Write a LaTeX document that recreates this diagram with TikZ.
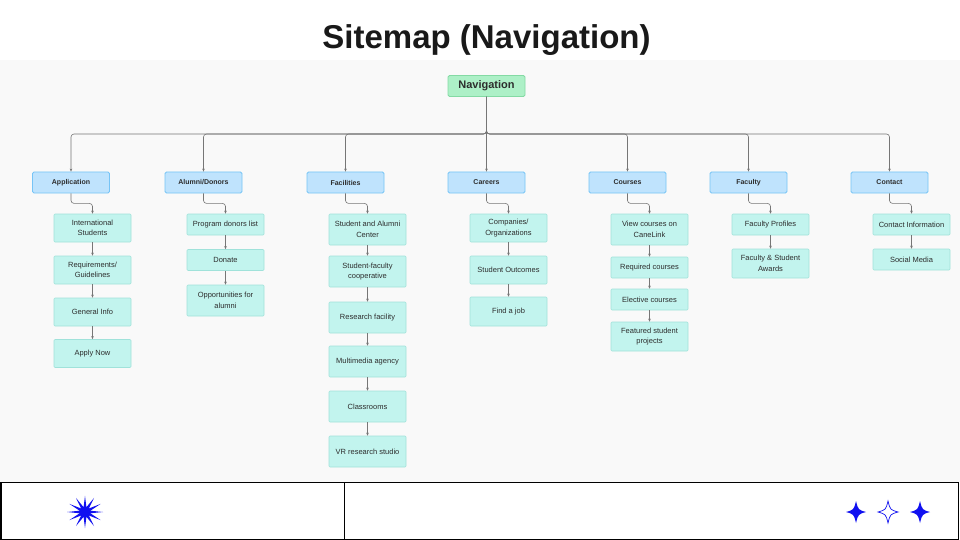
\documentclass[tikz,border=0pt]{standalone}
\usepackage{fontspec}
\setmainfont{Liberation Sans}
\usetikzlibrary{arrows.meta}

\definecolor{fonbg}{RGB}{249,249,249}
\definecolor{txt}{RGB}{45,45,45}
\definecolor{navfill}{RGB}{173,240,199}
\definecolor{navline}{RGB}{132,218,164}
\definecolor{topfill}{RGB}{191,227,253}
\definecolor{topline}{RGB}{118,196,246}
\definecolor{itemfill}{RGB}{194,244,238}
\definecolor{itemline}{RGB}{160,226,218}
\definecolor{linkgray}{RGB}{118,118,118}
\definecolor{starblue}{RGB}{16,16,240}

\tikzset{
  navbox/.style={draw=navline, fill=navfill, rounded corners=1.5pt, line width=0.8pt,
    minimum width=77, minimum height=21, inner sep=1pt, text=txt,
    font=\bfseries\fontsize{11}{13}\selectfont},
  topbox/.style={draw=topline, fill=topfill, rounded corners=1.5pt, line width=0.8pt,
    minimum width=77, minimum height=21, inner sep=1pt, text=txt,
    font=\bfseries\fontsize{7}{9}\selectfont},
  itembox/.style={draw=itemline, fill=itemfill, rounded corners=1pt, line width=0.6pt,
    minimum width=77, inner sep=1pt, align=center, text=txt,
    font=\fontsize{7.5}{10.5}\selectfont},
  link/.style={draw=linkgray, line width=0.6pt, rounded corners=3pt,
    -{Stealth[length=3pt,width=2.6pt]}},
  sparkle/.pic={
    \path[pic actions] (10,0) .. controls (2.2,2.2) .. (0,11)
      .. controls (-2.2,2.2) .. (-10,0) .. controls (-2.2,-2.2) .. (0,-11)
      .. controls (2.2,-2.2) .. cycle;
  }
}

\begin{document}
\begin{tikzpicture}[x=1pt,y=-1pt]
  \useasboundingbox (0,0) rectangle (960,540);
  \fill[white] (0,0) rectangle (960,540);
  \fill[fonbg] (0,60) rectangle (960,482);

  % Заголовок
  \node[anchor=base, font=\bfseries\fontsize{33}{36}\selectfont, text=black!90] (title) at (486.5,49) {Sitemap (Navigation)};

  % Корень
  \node[navbox] (nav) at (486.5,86) {Navigation};
  \coordinate (bus) at (486.5,134);

  % Разделы
  \node[topbox] (app) at (71,182.5) {Application};
  \node[topbox] (alum) at (203.5,182.5) {Alumni/Donors};
  \node[topbox] (fac) at (345.5,182.5) {Facilities};
  \node[topbox] (car) at (486.5,182.5) {Careers};
  \node[topbox] (crs) at (627.5,182.5) {Courses};
  \node[topbox] (facu) at (748.5,182.5) {Faculty};
  \node[topbox] (cont) at (889.5,182.5) {Contact};

  % Application
  \node[itembox, minimum height=28] (app1) at (92.5,228) {International\\Students};
  \node[itembox, minimum height=28] (app2) at (92.5,270) {Requirements/\\Guidelines};
  \node[itembox, minimum height=28] (app3) at (92.5,312) {General Info};
  \node[itembox, minimum height=28] (app4) at (92.5,353.5) {Apply Now};

  % Alumni/Donors
  \node[itembox, minimum height=21] (alum1) at (225.5,224.5) {Program donors list};
  \node[itembox, minimum height=21] (alum2) at (225.5,260) {Donate};
  \node[itembox, minimum height=31] (alum3) at (225.5,300.5) {Opportunities for\\alumni};

  % Facilities
  \node[itembox, minimum height=31] (fac1) at (367.5,229.5) {Student and Alumni\\Center};
  \node[itembox, minimum height=31] (fac2) at (367.5,271.5) {Student-faculty\\cooperative};
  \node[itembox, minimum height=31] (fac3) at (367.5,317.5) {Research facility};
  \node[itembox, minimum height=31] (fac4) at (367.5,361.5) {Multimedia agency};
  \node[itembox, minimum height=31] (fac5) at (367.5,406.5) {Classrooms};
  \node[itembox, minimum height=31] (fac6) at (367.5,451.5) {VR research studio};

  % Careers
  \node[itembox, minimum height=28] (car1) at (508.5,228) {Companies/\\Organizations};
  \node[itembox, minimum height=28] (car2) at (508.5,270) {Student Outcomes};
  \node[itembox, minimum height=29] (car3) at (508.5,311.5) {Find a job};

  % Courses
  \node[itembox, minimum height=31] (crs1) at (649.5,229.5) {View courses on\\CaneLink};
  \node[itembox, minimum height=21] (crs2) at (649.5,267.5) {Required courses};
  \node[itembox, minimum height=21] (crs3) at (649.5,299.5) {Elective courses};
  \node[itembox, minimum height=29] (crs4) at (649.5,336.5) {Featured student\\projects};

  % Faculty
  \node[itembox, minimum height=21] (facu1) at (770.5,224.5) {Faculty Profiles};
  \node[itembox, minimum height=29] (facu2) at (770.5,263.5) {Faculty \& Student\\Awards};

  % Contact
  \node[itembox, minimum height=21] (cont1) at (911.5,224.5) {Contact Information};
  \node[itembox, minimum height=21] (cont2) at (911.5,259.5) {Social Media};

  % Связи
  \foreach \t in {app,alum,fac,crs,facu,cont}
    \draw[link] (nav.south) -- (nav.south |- bus) -- (\t.north |- bus) -- (\t.north);
  \draw[link] (nav.south) -- (car.north);

  \foreach \p/\c in {app/app1,alum/alum1,fac/fac1,car/car1,crs/crs1,facu/facu1,cont/cont1}
    \draw[link] (\p.south) -- ++(0,10) -| (\c.north);

  \foreach \a/\b in {app1/app2,app2/app3,app3/app4,alum1/alum2,alum2/alum3,
      fac1/fac2,fac2/fac3,fac3/fac4,fac4/fac5,fac5/fac6,car1/car2,car2/car3,
      crs1/crs2,crs2/crs3,crs3/crs4,facu1/facu2,cont1/cont2}
    \draw[link] (\a.south) -- (\b.north);

  % Нижняя панель
  \draw[line width=1.5pt] (0.75,482.5) rectangle (958.5,539.25);
  \draw[line width=0.7pt] (344.5,482.5) -- (344.5,539.25);
  \fill[starblue, shift={(85,512)}, yscale=0.9] (90:18)
    \foreach \a in {90,120,...,420} { -- (\a+15:5.5) -- (\a+30:18) } -- cycle;
  \pic[fill=starblue] at (856,512) {sparkle};
  \pic[draw=starblue, fill=white, line width=0.7pt] at (888,512) {sparkle};
  \pic[fill=starblue] at (920,512) {sparkle};
\end{tikzpicture}
\end{document}
